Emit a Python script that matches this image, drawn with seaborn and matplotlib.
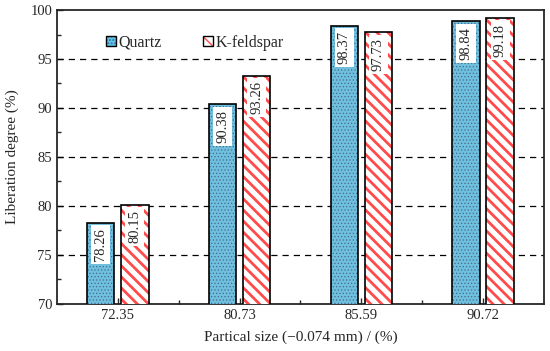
import numpy as np
import pandas as pd
import seaborn as sns
import matplotlib.pyplot as plt
from matplotlib.colors import to_rgba
from matplotlib.patches import Patch
from matplotlib.ticker import MultipleLocator, FixedLocator

# data
sizes = ['72.35', '80.73', '85.59', '90.72']
quartz = [78.26, 90.38, 98.37, 98.84]
kfeld = [80.15, 93.26, 97.73, 99.18]

df = pd.DataFrame({
    'size': sizes * 2,
    'degree': quartz + kfeld,
    'mineral': ['Quartz'] * 4 + ['K-feldspar'] * 4,
})

sns.set_style('ticks')
plt.rcParams['font.family'] = ['Liberation Serif', 'DejaVu Serif']

fig = plt.figure(figsize=(5.5, 3.51), dpi=100)
ax = fig.add_axes([0.1036, 0.134, 0.8854, 0.8375])

blue = '#5CC8F2'
sns.barplot(data=df, x='size', y='degree', hue='mineral',
            palette={'Quartz': blue, 'K-feldspar': 'white'},
            width=0.56, gap=0.2, edgecolor='black', linewidth=1.2,
            legend=False, ax=ax, zorder=3)

styles = {'Quartz': ('.....', '#4a6a8a', 0.5), 'K-feldspar': ('\\\\\\', '#ff4b4b', 2.0)}


def style_patch(p, name):
    h, c, lw = styles[name]
    p.set_hatch(h)
    p._hatch_color = to_rgba(c)
    if hasattr(p, 'set_hatch_linewidth'):
        p.set_hatch_linewidth(lw)
    else:
        p._hatch_linewidth = lw


bars = ax.patches
for i, p in enumerate(bars[:8]):
    style_patch(p, 'Quartz' if i < 4 else 'K-feldspar')

# value labels inside the bars
for i, p in enumerate(bars[:8]):
    val = p.get_height()
    ax.text(p.get_x() + p.get_width() / 2, val - 0.55, f'{val:.2f}',
            rotation=90, ha='center', va='top', fontsize=10.5, zorder=5,
            bbox=dict(facecolor='white', edgecolor='none', pad=2.2))

ax.set_ylim(70, 100)
ax.set_xlim(-0.5, 3.5)
ax.yaxis.set_major_locator(MultipleLocator(5))
ax.yaxis.set_minor_locator(MultipleLocator(2.5))
ax.xaxis.set_minor_locator(FixedLocator([0.5, 1.5, 2.5]))
ax.tick_params(which='both', direction='in', labelsize=10.5, width=1)
ax.tick_params(which='major', length=4)
ax.tick_params(which='minor', length=3)

for y in [75, 80, 85, 90, 95]:
    ax.axhline(y, color='black', linestyle=(0, (5, 4)), linewidth=0.9, zorder=1)

for s in ax.spines.values():
    s.set_linewidth(1.3)
    s.set_visible(True)

ax.set_xlabel('Partical size (\u22120.074 mm) / (%)', fontsize=11, labelpad=6)
ax.set_ylabel('Liberation degree (%)', fontsize=11, labelpad=8)

handles = [Patch(facecolor=blue, edgecolor='black'),
           Patch(facecolor='white', edgecolor='black')]
style_patch(handles[0], 'Quartz')
style_patch(handles[1], 'K-feldspar')
ax.legend(handles, ['Quartz', 'K-feldspar'], ncol=2, frameon=False,
          loc='center left', bbox_to_anchor=(0.085, 0.888), fontsize=11.5,
          handlelength=0.6, handleheight=0.6, handletextpad=0.15,
          columnspacing=2.6, borderpad=0)

fig.savefig('out.png', dpi=100)
